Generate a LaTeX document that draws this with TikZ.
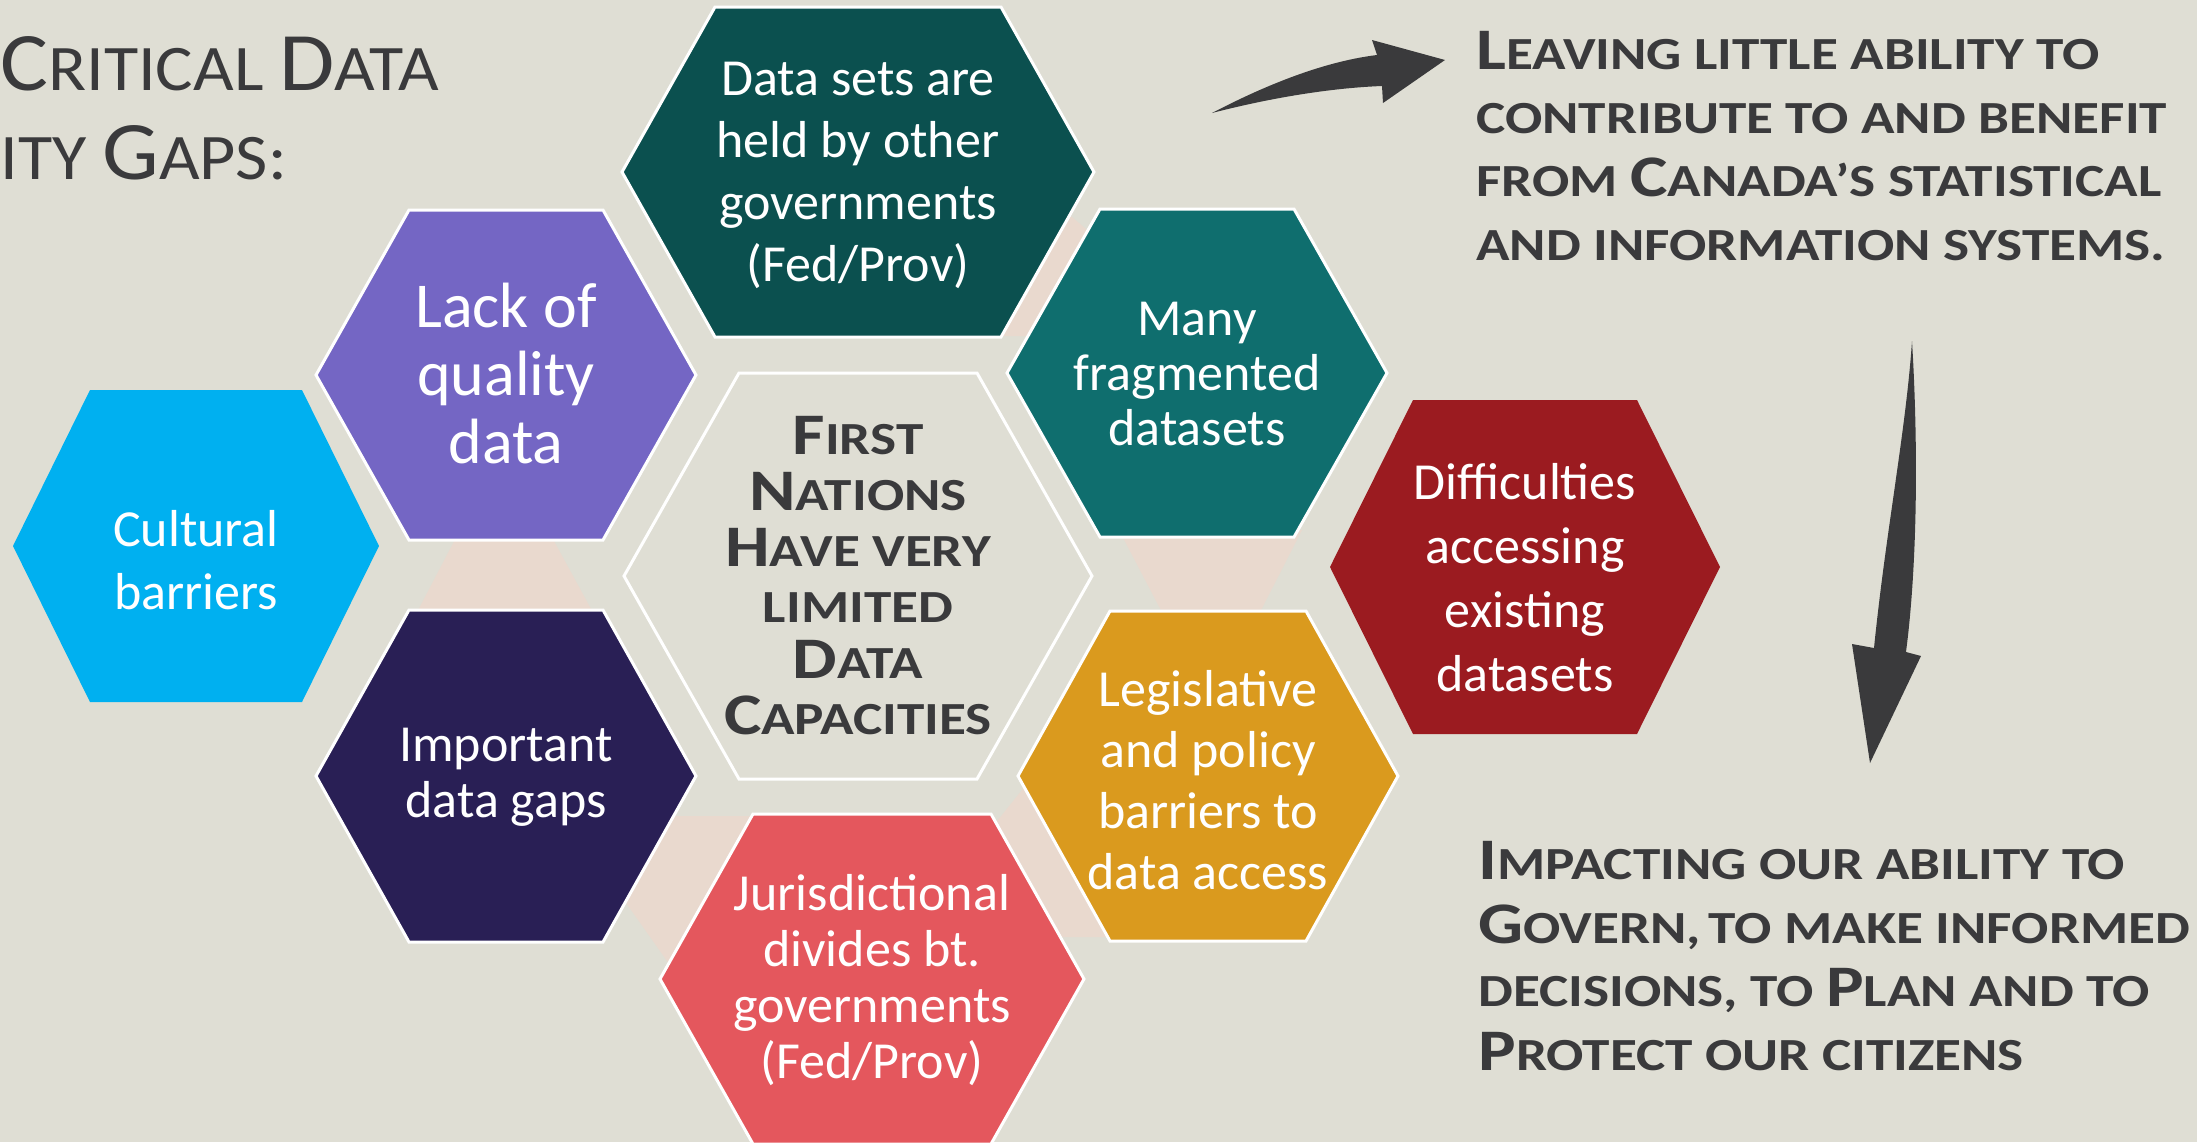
\documentclass[tikz,border=0pt]{standalone}
\usepackage{fontspec}
\setmainfont{Carlito}
\newfontfamily\capsfont[FakeStretch=1.2]{Carlito}
\newfontfamily\titlefont[FakeStretch=1.08]{Carlito}
\usetikzlibrary{calc}

\definecolor{bg}{HTML}{DFDED4}
\definecolor{ink}{HTML}{3A3A3C}
\definecolor{linkpink}{HTML}{E9D9CE}
\definecolor{cyanhex}{HTML}{00B0F0}
\definecolor{purplehex}{HTML}{7466C4}
\definecolor{navyhex}{HTML}{291F55}
\definecolor{tealdark}{HTML}{0B504F}
\definecolor{tealmid}{HTML}{0F6E6E}
\definecolor{coralhex}{HTML}{E4575D}
\definecolor{orangehex}{HTML}{DA9A1E}
\definecolor{redhex}{HTML}{9B1B20}

% big letter of the fake small caps
\newcommand\Bc[1]{\scalebox{1.28}{#1}}

\tikzset{pics/hexa/.style n args={3}{code={
  \path[pic actions] (-#1,0) -- (-#2,-#3) -- (#2,-#3) -- (#1,0) -- (#2,#3) -- (-#2,#3) -- cycle;}}}

\begin{document}
\begin{tikzpicture}[x=0.5pt,y=-0.5pt,
  rim/.style={draw=white,line width=1.5pt},
  hextext/.style={text=white,align=center,inner sep=0pt},
  heading/.style={text=ink,align=left,inner sep=0pt,anchor=north west},
  arrowfill/.style={fill=ink}]
  \path[use as bounding box,fill=bg] (0,0) rectangle (2197,1142);

  % links behind the cells
  \fill[linkpink] (460,530) -- (548,530) -- (597,620) -- (413,620) -- cycle;
  \fill[linkpink] (1066,212) -- (1092,234) -- (1030,336) -- (1000,336) -- cycle;
  \fill[linkpink] (1119,530) -- (1302,530) -- (1257,618) -- (1165,618) -- cycle;
  \fill[linkpink] (660,816) -- (760,816) -- (672,968) -- (624,900) -- cycle;
  \fill[linkpink] (1030,780) -- (990,830) -- (1050,937) -- (1120,937) -- cycle;

  % cells
  \pic[fill=cyanhex] at (196,546) {hexa={183}{106}{156}};
  \pic[fill=purplehex,rim] at (506,375) {hexa={190}{97}{165}};
  \pic[fill=navyhex,rim] at (506,776) {hexa={190}{97}{166}};
  \pic[fill=tealdark,rim] at (858,172) {hexa={236}{143}{165}};
  \pic[fill=tealmid,rim] at (1197,373) {hexa={190}{97}{164}};
  \pic[fill=bg,rim] at (858,576) {hexa={234}{119}{203}};
  \pic[fill=coralhex,rim] at (872,979) {hexa={212}{119}{165}};
  \pic[fill=orangehex,rim] at (1208,776) {hexa={190}{98}{165}};
  \pic[fill=redhex] at (1525,567) {hexa={195}{112}{167}};

  \node[hextext,font=\fontsize{26}{31.5}\selectfont] (cultural) at (196,560) {Cultural\\barriers};
  \node[hextext,font=\fontsize{32}{34}\selectfont] (quality) at (506,374) {Lack of\\quality\\data};
  \node[hextext,font=\fontsize{26}{28}\selectfont] (gaps) at (506,777) {Important\\data gaps};
  \node[hextext,font=\fontsize{26}{31}\selectfont] (heldby) at (858,175) {Data sets are\\held by other\\governments\\(Fed/Prov)};
  \node[hextext,font=\fontsize{26}{27.5}\selectfont] (fragmented) at (1197,374) {Many\\fragmented\\datasets};
  \node[hextext,text=ink,font=\capsfont\bfseries\fontsize{23}{28}\selectfont] (core) at (858,576)
    {\Bc{F}IRST\\\Bc{N}ATIONS\\\Bc{H}AVE VERY\\LIMITED\\\Bc{D}ATA\\\Bc{C}APACITIES};
  \node[hextext,font=\fontsize{26}{28}\selectfont] (divides) at (872,980) {Jurisdictional\\divides bt.\\governments\\(Fed/Prov)};
  \node[hextext,font=\fontsize{26}{30.5}\selectfont] (legislative) at (1208,780) {Legislative\\and policy\\barriers to\\data access};
  \node[hextext,font=\fontsize{26}{32}\selectfont] (difficult) at (1525,578) {Difficulties\\accessing\\existing\\datasets};

  % headings
  \node[heading,font=\titlefont\fontsize{32.5}{44.5}\selectfont] (title) at (0,36)
    {\Bc{C}RITICAL \Bc{D}ATA\\ITY \Bc{G}APS:};
  \node[heading,font=\capsfont\bfseries\fontsize{23}{31.8}\selectfont] (leaving) at (1476,31)
    {\Bc{L}EAVING LITTLE ABILITY TO\\CONTRIBUTE TO AND BENEFIT\\FROM \Bc{C}ANADA’S STATISTICAL\\AND INFORMATION SYSTEMS.};
  \node[heading,font=\capsfont\bfseries\fontsize{23}{31.8}\selectfont] (impacting) at (1478,841)
    {\Bc{I}MPACTING OUR ABILITY TO\\\Bc{G}OVERN,\,TO MAKE INFORMED\\DECISIONS, TO \Bc{P}LAN AND TO\\\Bc{P}ROTECT OUR CITIZENS};

  % arrows
  \coordinate (curvetail) at (1212,113);
  \coordinate (curvetip) at (1445,60);
  \coordinate (droptail) at (1912,341);
  \coordinate (droptip) at (1870,763);
  \fill[arrowfill] (curvetail) .. controls (1260,88) and (1320,62) .. (1377,55) -- (1372,40) -- (curvetip)
    -- (1383,103) -- (1382,86) .. controls (1330,88) and (1270,98) .. (curvetail) -- cycle;
  \fill[arrowfill] (droptail) .. controls (1918,440) and (1918,560) .. (1906,652) -- (1921,656) -- (droptip)
    -- (1852,644) -- (1874,648) .. controls (1886,530) and (1906,430) .. (droptail) -- cycle;
\end{tikzpicture}
\end{document}
